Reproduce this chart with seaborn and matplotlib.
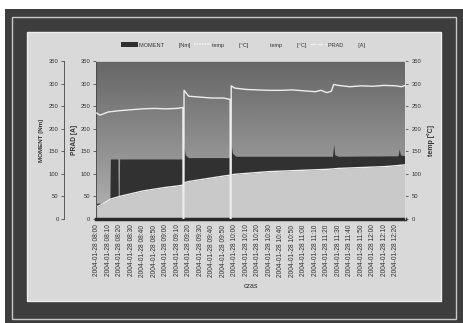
import numpy as np
import matplotlib
matplotlib.use('Agg')
import matplotlib.pyplot as plt
import seaborn as sns
from matplotlib.patches import Rectangle, Patch
from matplotlib.lines import Line2D

sns.set_style('white')
plt.rcParams['font.family'] = ['Liberation Sans', 'DejaVu Sans']

# ========== dane ==========
TIME_LABELS = [
    '2004-01-28 08:00', '2004-01-28 08:10', '2004-01-28 08:20', '2004-01-28 08:30',
    '2004-01-28 08:40', '2004-01-28 08:50', '2004-01-28 09:00', '2004-01-28 09:10',
    '2004-01-28 09:20', '2004-01-28 09:30', '2004-01-28 09:40', '2004-01-28 09:50',
    '2004-01-28 10:00', '2004-01-28 10:10', '2004-01-28 10:20', '2004-01-28 10:30',
    '2004-01-28 10:40', '2004-01-28 10:50', '2004-01-28 11:00', '2004-01-28 11:10',
    '2004-01-28 11:20', '2004-01-28 11:30', '2004-01-28 11:40', '2004-01-28 11:50',
    '2004-01-28 12:00', '2004-01-28 12:10', '2004-01-28 12:20',
]

# MOMENT [Nm]
moment_t = [0, 1.15, 1.2, 1.85, 1.9, 1.95, 2.0, 7.5, 7.55, 7.6, 7.7, 8.0,
            11.6, 11.65, 11.7, 11.8, 12.1, 20.5, 20.6, 20.7, 21.0, 26.2, 26.3, 26.4, 26.8]
moment = [35, 35, 133, 133, 0, 0, 133, 133, 0, 160, 142, 136,
          136, 0, 165, 146, 139, 139, 165, 142, 139, 140, 155, 142, 140]

# temp [°C] - linia
temp_t = [0, 0.3, 1, 2, 3, 4, 5, 6, 7, 7.5, 7.52, 7.58, 7.6, 8, 9, 10, 11, 11.6,
          11.62, 11.68, 11.7, 12, 13, 14, 15, 16, 17, 18, 19, 19.5, 20, 20.4,
          20.6, 21, 22, 23, 24, 25, 26, 26.5, 26.8]
temp = [235, 230, 237, 240, 242, 244, 245, 244, 245, 247, 0, 0, 285, 272, 270, 268, 268, 265,
        0, 0, 295, 290, 287, 286, 285, 285, 286, 284, 282, 285, 280, 283,
        298, 296, 293, 295, 294, 296, 295, 293, 296]

# temp [°C] - obszar
temp2_t = [0, 0.5, 1.2, 2, 3, 4, 5, 6, 7, 7.5, 7.6, 8, 9, 10, 11, 11.6, 12, 13, 14,
           15, 16, 17, 18, 19, 20, 20.6, 21, 22, 23, 24, 25, 26, 26.8]
temp2 = [27, 33, 44, 50, 56, 62, 66, 70, 73, 75, 80, 83, 87, 91, 95, 97, 99, 101, 103,
         105, 106, 107, 108, 109, 110, 111, 112, 113, 114, 115, 116, 118, 120]

# PRAD [A]
prad_t = [0, 26.8]
prad = [0, 0]

YTICKS = [0, 50, 100, 150, 200, 250, 300, 350]

W, H = 463, 323


def fig_rect(x0, y0, x1, y1):
    """piksele (od gory) -> wspolrzedne figury"""
    return (x0 / W, 1 - y1 / H), (x1 - x0) / W, (y1 - y0) / H


fig = plt.figure(figsize=(W / 100, H / 100), dpi=100)
fig.patch.set_facecolor('white')

# ramka
xy, w, h = fig_rect(5, 9, 463, 323)
fig.add_artist(Rectangle(xy, w, h, transform=fig.transFigure, facecolor='#3d3d3d',
                         edgecolor='none', zorder=-3))
xy, w, h = fig_rect(12, 17, 456, 319)
fig.add_artist(Rectangle(xy, w, h, transform=fig.transFigure, facecolor='none',
                         edgecolor='#c8c8c8', lw=1, zorder=-2))
xy, w, h = fig_rect(27, 32, 441, 301)
fig.add_artist(Rectangle(xy, w, h, transform=fig.transFigure, facecolor='#d9d9d9',
                         edgecolor='#eeeeee', lw=1, zorder=-1))

xy, w, h = fig_rect(96, 61, 405, 219)
ax = fig.add_axes([xy[0], xy[1], w, h])
ax.set_facecolor('none')

# tlo z gradientem (ciemne u gory, jasniejsze u dolu)
grad = np.linspace(0.40, 0.70, 256).reshape(-1, 1)
ax.imshow(grad, extent=[-0.05, 26.8, 0, 350], aspect='auto', cmap='gray',
          vmin=0, vmax=1, zorder=0)

ax.fill_between(moment_t, 0, moment, color='#313131', lw=0, zorder=1)
ax.fill_between(temp2_t, 0, temp2, color='#c9c9c9', lw=0, zorder=1.2)
ax.plot(temp2_t, temp2, color='#ebebeb', lw=1.0, zorder=1.3)
sns.lineplot(x=prad_t, y=prad, ax=ax, color='#d0d0d0', lw=0.8, ls='--',
             estimator=None, sort=False, zorder=1.1)
sns.lineplot(x=temp_t, y=temp, ax=ax, color='#ededed', lw=1.0,
             estimator=None, sort=False, zorder=3)

ax.set_xlim(-0.05, 26.8)
ax.set_ylim(0, 350)
ax.set_xticks(range(len(TIME_LABELS)))
ax.set_xticklabels(TIME_LABELS, rotation=90, fontsize=4.8, color='#333333')
ax.set_yticks(YTICKS)
ax.tick_params(axis='y', labelsize=4.2, colors='#333333', length=2, width=0.5, pad=2)
ax.tick_params(axis='x', length=0, pad=4)
ax.set_xlabel('czas', fontsize=5, color='#333333', labelpad=5)
ax.set_ylabel('PRAD [A]', fontsize=4.8, color='#333333', fontweight='bold', labelpad=2)
for s in ['top', 'right']:
    ax.spines[s].set_color('#dddddd')
    ax.spines[s].set_linewidth(0.6)
ax.spines['left'].set_color('#444444')
ax.spines['left'].set_linewidth(0.6)
ax.spines['bottom'].set_color('#2a2a2a')
ax.spines['bottom'].set_linewidth(2.5)
ax.spines['bottom'].set_zorder(2.5)

# prawa os - temp
ax_r = ax.twinx()
ax_r.set_ylim(0, 350)
ax_r.set_yticks(YTICKS)
ax_r.tick_params(axis='y', labelsize=4.2, colors='#333333', length=2, width=0.5, pad=3)
ax_r.set_ylabel('temp [°C]', fontsize=5, color='#333333', fontweight='bold', labelpad=4)
for s in ['top', 'left', 'bottom']:
    ax_r.spines[s].set_visible(False)
ax_r.spines['right'].set_color('#dddddd')
ax_r.spines['right'].set_linewidth(0.6)

# zewnetrzna lewa os - MOMENT
ax_m = ax.twinx()
ax_m.set_ylim(0, 350)
ax_m.spines['left'].set_position(('outward', 23))
ax_m.spines['left'].set_visible(True)
ax_m.spines['left'].set_color('#444444')
ax_m.spines['left'].set_linewidth(0.6)
ax_m.yaxis.set_label_position('left')
ax_m.yaxis.set_ticks_position('left')
for s in ['top', 'right', 'bottom']:
    ax_m.spines[s].set_visible(False)
ax_m.set_yticks(YTICKS)
ax_m.tick_params(axis='y', labelsize=4.2, colors='#333333', length=2, width=0.5, pad=2)
ax_m.set_ylabel('MOMENT [Nm]', fontsize=4.5, color='#333333', fontweight='bold', labelpad=3)

# legenda
handles = [
    Patch(facecolor='#2f2f2f', edgecolor='none'),
    Line2D([], [], color='#efefef', lw=1.2, ls=(0, (1, 0.6))),
    Patch(facecolor='#d9d9d9', edgecolor='none'),
    Line2D([], [], color='#efefef', lw=1.0, ls='--'),
]
labels = ['MOMENT          [Nm]', 'temp          [°C]', 'temp          [°C]', 'PRAD          [A]']
fig.legend(handles, labels, loc='center', bbox_to_anchor=(0.525, 1 - 45 / H), ncol=4,
           frameon=False, fontsize=4, handlelength=3, handleheight=0.8,
           columnspacing=0.6, handletextpad=0.3, labelcolor='#333333')

fig.savefig('out.png', dpi=100)
